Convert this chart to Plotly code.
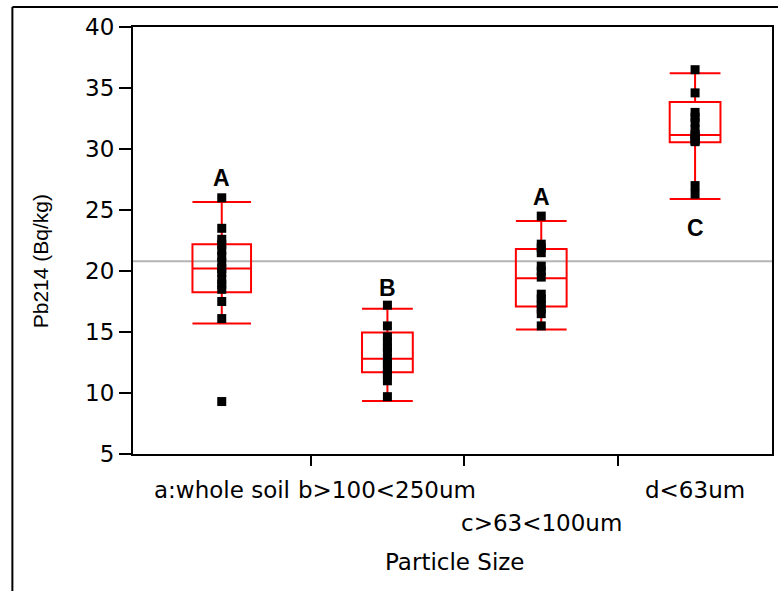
import plotly.graph_objects as go

# ---- data ----
categories = ["a:whole soil", "b>100<250um", "c>63<100um", "d<63um"]
group_letters = ["A", "B", "A", "C"]
pts_a = [26.0, 23.5, 22.6, 22.2, 21.7, 21.2, 20.7, 20.2, 19.9, 19.3, 18.9, 18.5, 17.5, 16.1, 9.3]
pts_b = [17.2, 15.5, 14.6, 14.2, 13.7, 13.4, 12.8, 12.5, 12.1, 11.8, 11.5, 11.0, 9.7]
pts_c = [24.5, 22.2, 21.9, 21.5, 20.4, 20.0, 19.5, 18.1, 17.7, 17.3, 16.9, 16.5, 15.5]
pts_d = [36.5, 34.6, 33.0, 32.6, 32.2, 31.6, 31.2, 31.0, 30.8, 30.7, 30.6, 27.0, 26.3]
q1 = [18.25, 11.7, 17.1, 30.55]
median = [20.2, 12.8, 19.4, 31.15]
q3 = [22.2, 14.95, 21.8, 33.85]
whisk_lo = [15.7, 9.35, 15.2, 25.9]
whisk_hi = [25.65, 16.9, 24.1, 36.2]
letter_y = [27.6, 18.6, 26.1, 23.5]
grand_mean = 20.8
y_ticks = [5, 10, 15, 20, 25, 30, 35, 40]

groups = [pts_a, pts_b, pts_c, pts_d]

# category widths proportional to sample size (JMP style)
ns = [len(g) for g in groups]
bounds = [0]
for n in ns:
    bounds.append(bounds[-1] + n)
centers = [(bounds[i] + bounds[i + 1]) / 2 for i in range(len(ns))]

W, H = 778, 591
L, R, T, B = 133, 4, 27, 137
pw, ph = W - L - R, H - T - B

def px(xp):
    return (xp - L) / pw

def py(yp):
    return (H - B - yp) / ph

FONT = "Liberation Sans, Arial, sans-serif"
WIDE = "DejaVu Sans, sans-serif"

fig = go.Figure()

for i, g in enumerate(groups):
    fig.add_trace(go.Box(
        x=[centers[i]], q1=[q1[i]], median=[median[i]], q3=[q3[i]],
        lowerfence=[whisk_lo[i]], upperfence=[whisk_hi[i]],
        width=ns[i] * 0.33, whiskerwidth=1,
        line=dict(color="#ff0000", width=2),
        fillcolor="rgba(0,0,0,0)", boxpoints=False, showlegend=False,
        hoverinfo="skip",
    ))

for i, g in enumerate(groups):
    fig.add_trace(go.Scatter(
        x=[centers[i]] * len(g), y=g, mode="markers",
        marker=dict(symbol="square", size=9, color="black"),
        showlegend=False,
    ))

annotations = []
for i, lab in enumerate(group_letters):
    annotations.append(dict(
        x=centers[i], y=letter_y[i], xref="x", yref="y", text="<b>%s</b>" % lab,
        showarrow=False, font=dict(family=FONT, size=23, color="black"),
    ))

# category labels (c is staggered to a second row)
label_rows = [0, 0, 1, 0]
for i, lab in enumerate(categories):
    yc = 490 if label_rows[i] == 0 else 523
    annotations.append(dict(
        x=centers[i], y=py(yc), xref="x", yref="paper", text=lab,
        showarrow=False, font=dict(family=WIDE, size=23, color="black"),
        yanchor="middle",
    ))

annotations.append(dict(
    x=px(456), y=py(562), xref="paper", yref="paper", text="Particle Size",
    showarrow=False, font=dict(family=WIDE, size=23, color="black"), yanchor="middle",
))
annotations.append(dict(
    x=px(40), y=py(261), xref="paper", yref="paper", text="Pb214 (Bq/kg)",
    textangle=-90, showarrow=False, font=dict(family=FONT, size=21, color="black"),
    xanchor="center", yanchor="middle",
))

shapes = [
    dict(type="line", xref="paper", yref="y", x0=0, x1=1, y0=grand_mean, y1=grand_mean,
         line=dict(color="#b4b4b4", width=2), layer="below"),
    dict(type="line", xref="paper", yref="paper", x0=px(12), x1=px(12), y0=py(7), y1=py(600),
         line=dict(color="black", width=2)),
    dict(type="line", xref="paper", yref="paper", x0=px(12), x1=px(790), y0=py(7), y1=py(7),
         line=dict(color="black", width=2)),
]

fig.update_layout(
    width=W, height=H,
    margin=dict(l=L, r=R, t=T, b=B, pad=0),
    paper_bgcolor="white", plot_bgcolor="white",
    annotations=annotations, shapes=shapes,
    font=dict(family=FONT, size=21, color="black"),
    xaxis=dict(range=[bounds[0], bounds[-1]], tickvals=bounds[1:-1], showticklabels=False,
               ticks="outside", ticklen=10, tickwidth=2, tickcolor="black",
               showline=True, linecolor="black", linewidth=2, mirror=True,
               showgrid=False, zeroline=False),
    yaxis=dict(range=[5, 40], tickvals=y_ticks, ticks="outside", ticklen=12, tickwidth=2,
               tickcolor="black", showline=True, linecolor="black", linewidth=2, mirror=True,
               showgrid=False, zeroline=False,
               tickfont=dict(family=WIDE, size=23, color="black")),
)

fig.write_html("out.html")
